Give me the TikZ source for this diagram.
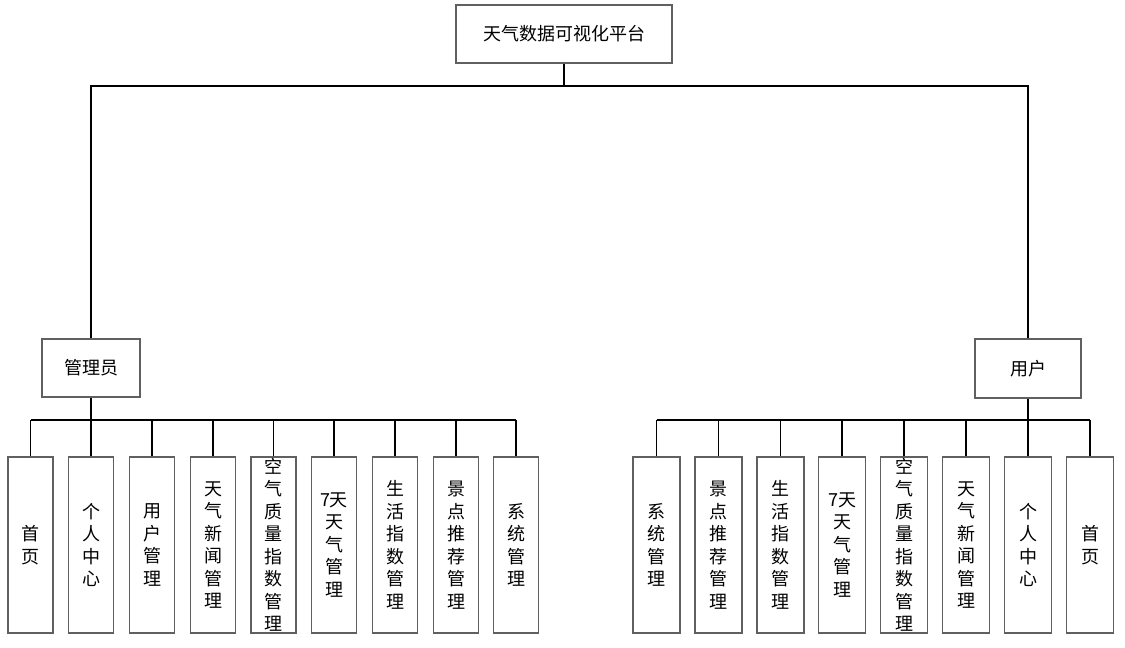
\documentclass[tikz,border=0pt]{standalone}
\usepackage{fontspec}
\setmainfont{Noto Sans CJK SC}
\definecolor{boxgray}{HTML}{606060}
\begin{document}
\begin{tikzpicture}[x=1pt,y=-1pt,
  box/.style={draw=boxgray,line width=1.3pt,fill=white,inner sep=0pt,
    font=\fontsize{18}{22.5}\selectfont},
  leaf/.style={box,minimum width=45pt,minimum height=176pt,align=center},
  rleaf/.style={leaf,minimum width=47pt},
  conn/.style={black,line width=1.3pt},
  trunk/.style={black,line width=2.2pt}]
\useasboundingbox[fill=white] (0,0) rectangle (1125,648);
\coordinate (ytop) at (0,86);
\coordinate (lbus) at (0,420);

\node[box,minimum width=216pt,minimum height=58pt] (root) at (564,34) {天气数据可视化平台};
\node[box,minimum width=98pt,minimum height=58pt] (admin) at (91,368) {管理员};
\node[box,minimum width=106pt,minimum height=59pt] (user) at (1028,368.5) {用户};

% left leaves
\node[leaf] (a1) at (30.5,545) {首\\页};
\node[leaf] (a2) at (91,545) {个\\人\\中\\心};
\node[leaf] (a3) at (152,545) {用\\户\\管\\理};
\node[leaf] (a4) at (213,545) {天\\气\\新\\闻\\管\\理};
\node[leaf] (a5) at (273.5,545) {空\\气\\质\\量\\指\\数\\管\\理};
\node[leaf] (a6) at (334,545) {7天\\天\\气\\管\\理};
\node[leaf] (a7) at (395,545) {生\\活\\指\\数\\管\\理};
\node[leaf] (a8) at (456,545) {景\\点\\推\\荐\\管\\理};
\node[leaf] (a9) at (516,545) {系\\统\\管\\理};

% right leaves
\node[rleaf] (b1) at (656.5,545) {系\\统\\管\\理};
\node[rleaf] (b2) at (718.5,545) {景\\点\\推\\荐\\管\\理};
\node[rleaf] (b3) at (780.5,545) {生\\活\\指\\数\\管\\理};
\node[rleaf] (b4) at (842,545) {7天\\天\\气\\管\\理};
\node[rleaf] (b5) at (904,545) {空\\气\\质\\量\\指\\数\\管\\理};
\node[rleaf] (b6) at (966,545) {天\\气\\新\\闻\\管\\理};
\node[rleaf] (b7) at (1028,545) {个\\人\\中\\心};
\node[rleaf] (b8) at (1090,545) {首\\页};

% top level connectors
\draw[conn] (root.south) -- (root.south |- ytop);
\draw[conn] (admin.north) -- (admin.north |- ytop) -- (user.north |- ytop) -- (user.north);

% left bus
\draw[trunk] (admin.south) -- (admin.south |- lbus);
\draw[conn] (a1.north |- lbus) -- (a9.north |- lbus);
\foreach \n in {a1,a2,a3,a4,a5,a6,a7,a8,a9}
  \draw[conn] (\n.north) -- (\n.north |- lbus);

% right bus
\draw[trunk] (user.south) -- (user.south |- lbus);
\draw[conn] (b1.north |- lbus) -- (b8.north |- lbus);
\foreach \n in {b1,b2,b3,b4,b5,b6,b7,b8}
  \draw[conn] (\n.north) -- (\n.north |- lbus);
\end{tikzpicture}
\end{document}
